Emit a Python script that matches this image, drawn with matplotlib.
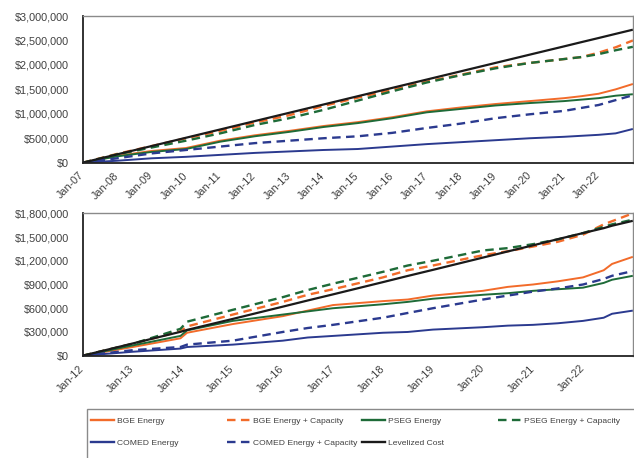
import numpy as np
import pandas as pd
import matplotlib
matplotlib.use('Agg')
from matplotlib import pyplot as plt
from matplotlib.lines import Line2D
from matplotlib.patches import Rectangle
from matplotlib.ticker import FuncFormatter, MultipleLocator
import matplotlib.dates as mdates

plt.rcParams['font.family'] = ['Liberation Sans', 'DejaVu Sans']

# upper panel, cumulative cost from Jan-07 ($ millions)
top_dates = ['2007-01-01', '2008-01-01', '2009-01-01', '2010-01-01', '2011-01-01',
             '2012-01-01', '2013-01-01', '2014-01-01', '2015-01-01', '2016-01-01',
             '2017-01-01', '2018-01-01', '2019-01-01', '2020-01-01', '2021-01-01',
             '2021-07-01', '2022-01-01', '2022-07-01', '2022-12-31']
top_levelized = [0, .17, .34, .51, .68, .85, 1.02, 1.19, 1.36, 1.53, 1.70, 1.87,
                 2.04, 2.21, 2.38, 2.465, 2.55, 2.635, 2.72]
top_bge_e = [0, .14, .24, .30, .45, .56, .65, .75, .83, .93, 1.05, 1.13, 1.20,
             1.26, 1.32, 1.36, 1.41, 1.50, 1.61]
top_bge_ec = [0, .18, .34, .50, .65, .82, .97, 1.16, 1.33, 1.49, 1.66, 1.80, 1.95,
              2.04, 2.12, 2.16, 2.25, 2.36, 2.50]
top_pseg_e = [0, .13, .22, .28, .43, .54, .63, .73, .81, .91, 1.03, 1.10, 1.17,
              1.22, 1.26, 1.29, 1.32, 1.37, 1.40]
top_pseg_ec = [0, .17, .31, .45, .60, .77, .91, 1.08, 1.27, 1.46, 1.64, 1.79, 1.93,
               2.04, 2.12, 2.16, 2.22, 2.30, 2.37]
top_comed_e = [0, .04, .09, .12, .16, .20, .23, .26, .28, .33, .38, .42, .46, .50,
               .53, .55, .57, .60, .69]
top_comed_ec = [0, .09, .19, .26, .33, .40, .45, .50, .54, .61, .71, .80, .91, .99,
                1.06, 1.12, 1.18, 1.28, 1.38]

# lower panel, cumulative cost from Jan-12 ($ millions)
bot_dates = ['2012-01-01', '2013-01-01', '2013-12-15', '2014-02-01', '2015-01-01',
             '2016-01-01', '2016-07-01', '2017-01-01', '2018-01-01', '2018-07-01',
             '2019-01-01', '2020-01-01', '2020-07-01', '2021-01-01', '2021-07-01',
             '2022-01-01', '2022-06-01', '2022-08-01', '2022-12-31']
bot_levelized = [0, .155, .302, .326, .465, .62, .698, .775, .93, 1.008, 1.085,
                 1.24, 1.318, 1.395, 1.473, 1.55, 1.612, 1.643, 1.705]
bot_bge_e = [0, .11, .22, .29, .40, .50, .57, .64, .69, .71, .76, .82, .87, .90,
             .94, .99, 1.08, 1.16, 1.25]
bot_bge_ec = [0, .15, .31, .37, .52, .68, .77, .84, .99, 1.08, 1.14, 1.27, 1.32,
              1.38, 1.44, 1.53, 1.66, 1.70, 1.80]
bot_pseg_e = [0, .13, .25, .32, .44, .52, .56, .60, .65, .68, .72, .77, .79, .82,
              .84, .86, .92, .96, 1.01]
bot_pseg_ec = [0, .15, .34, .43, .58, .74, .83, .91, 1.06, 1.14, 1.20, 1.33, 1.36,
               1.41, 1.47, 1.55, 1.63, 1.66, 1.72]
bot_comed_e = [0, .05, .09, .11, .14, .19, .23, .25, .29, .30, .33, .36, .38, .39,
               .41, .44, .48, .53, .57]
bot_comed_ec = [0, .07, .11, .14, .19, .30, .35, .39, .48, .54, .60, .71, .76, .81,
                .85, .90, .97, 1.01, 1.07]

labels = ['BGE Energy', 'BGE Energy + Capacity', 'PSEG Energy',
          'PSEG Energy + Capacity', 'COMED Energy', 'COMED Energy + Capacity',
          'Levelized Cost']

ORANGE = '#F26B2A'
GREEN = '#1E6B38'
BLUE = '#2B3A8F'
BLACK = '#1A1A1A'
TXT = '#404040'
DASH = (0, (3.6, 2.3))
styles = [(ORANGE, '-'), (ORANGE, DASH), (GREEN, '-'), (GREEN, DASH),
          (BLUE, '-'), (BLUE, DASH), (BLACK, '-')]

W, H = 634, 458
fig = plt.figure(figsize=(W / 100, H / 100), dpi=100)


def fx(px):
    return px / W


def fy(py):
    return 1 - py / H


def panel(rect, dates, series, first_year, ymax, ystep):
    ax = fig.add_axes(rect)
    x = pd.to_datetime(dates)
    for (col, ls), vals in zip(styles, series):
        lw = 1.7 if ls is DASH else (1.6 if col == BLACK else 1.4)
        ax.plot(x, np.array(vals) * 1e6, color=col, linestyle=ls, lw=lw,
                solid_capstyle='butt', dash_capstyle='butt')
    ax.set_xlim(pd.Timestamp(f'{first_year}-01-01'), pd.Timestamp('2023-01-01'))
    ax.set_ylim(0, ymax)
    ax.yaxis.set_major_locator(MultipleLocator(ystep))
    ax.yaxis.set_major_formatter(FuncFormatter(lambda v, p: '${:,.0f}'.format(v)))
    ticks = pd.to_datetime([f'{y}-01-01' for y in range(first_year, 2023)])
    ax.set_xticks(ticks)
    ax.xaxis.set_major_formatter(mdates.DateFormatter('%b-%y'))
    ax.tick_params(axis='y', length=0, pad=10, labelsize=7.8, labelcolor=TXT)
    ax.tick_params(axis='x', length=0, pad=8, labelsize=7.8, labelcolor=TXT)
    for lab in ax.get_xticklabels():
        lab.set_rotation(45)
        lab.set_rotation_mode('anchor')
        lab.set_ha('right')
        lab.set_va('center')
    for side in ['left', 'bottom']:
        ax.spines[side].set_color('#222222')
        ax.spines[side].set_linewidth(1.3)
    for side in ['top', 'right']:
        ax.spines[side].set_color('#8a8a8a')
        ax.spines[side].set_linewidth(1.0)
    return ax


left, right = fx(82.7), fx(633)
panel([left, fy(162.7), right - left, fy(16) - fy(162.7)], top_dates,
      [top_bge_e, top_bge_ec, top_pseg_e, top_pseg_ec, top_comed_e, top_comed_ec,
       top_levelized], 2007, 3000000, 500000)
panel([left, fy(355.7), right - left, fy(213.3) - fy(355.7)], bot_dates,
      [bot_bge_e, bot_bge_ec, bot_pseg_e, bot_pseg_ec, bot_comed_e, bot_comed_ec,
       bot_levelized], 2012, 1800000, 300000)

# legend box (runs off the right and bottom edge as in the source)
fig.patches.append(Rectangle((fx(87), fy(470)), fx(600), fy(409) - fy(470),
                             transform=fig.transFigure, fill=False,
                             edgecolor='#8a8a8a', lw=1.0))
handles = [Line2D([], [], color=c, linestyle=ls, lw=1.7) for c, ls in styles]
col_x = [89, 225, 360, 496]
columns = [[0, 4], [1, 5], [2, 6], [3]]
for cx, idx in zip(col_x, columns):
    fig.legend([handles[i] for i in idx], [labels[i] for i in idx],
               loc='upper left', bbox_to_anchor=(fx(cx), fy(415)),
               frameon=False, fontsize=6.1, handlelength=2.75,
               handletextpad=0.3, labelspacing=1.75, borderpad=0.2,
               borderaxespad=0, labelcolor=TXT)

fig.savefig('out.png', dpi=100)
